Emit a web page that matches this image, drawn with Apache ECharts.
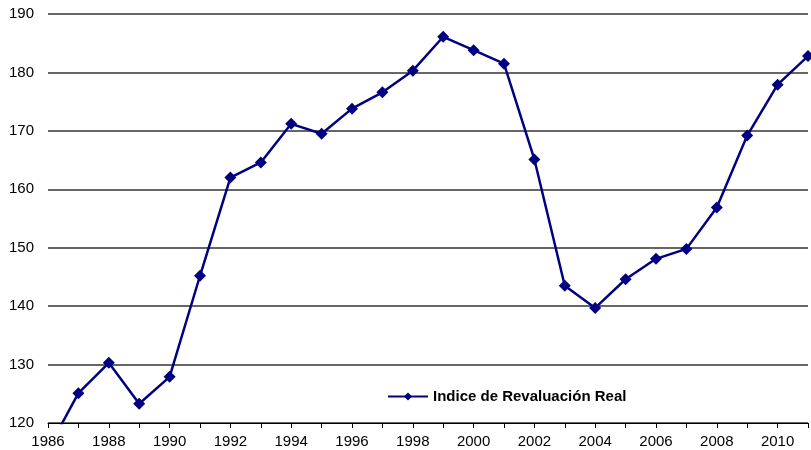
<!DOCTYPE html>
<html>
<head>
<meta charset="utf-8">
<script src="https://cdn.jsdelivr.net/npm/echarts@6/dist/echarts.min.js"></script>
<style>
    html, body { margin: 0; padding: 0; background: #fff; }
    #chart { width: 811px; height: 450px; }
</style>
</head>
<body>
<div id="chart"></div>
<script>
// datos
const years = [1986, 1987, 1988, 1989, 1990, 1991, 1992, 1993, 1994, 1995, 1996, 1997, 1998,
    1999, 2000, 2001, 2002, 2003, 2004, 2005, 2006, 2007, 2008, 2009, 2010, 2011];
const indiceReal = [115.5, 125.1, 130.3, 123.3, 127.9, 145.2, 162.0, 164.6, 171.2, 169.5, 173.8, 176.6, 180.3,
    186.1, 183.8, 181.5, 165.1, 143.5, 139.7, 144.6, 148.1, 149.8, 156.9, 169.2, 177.9, 182.8];
const seriesName = 'Indice de Revaluación Real';

const myChart = echarts.init(document.getElementById('chart'));

const options = {
    animation: false,
    textStyle: { fontFamily: 'Liberation Sans, Arial, sans-serif' },
    grid: { left: 48, right: 1, top: 14, bottom: 27 },
    legend: {
        left: 382,
        top: 384,
        itemWidth: 40,
        itemHeight: 10,
        textStyle: { color: '#000', fontSize: 15, fontWeight: 'bold' },
        data: [seriesName]
    },
    xAxis: {
        type: 'value',
        min: 1986,
        max: 2011,
        interval: 1,
        axisLine: { show: true, lineStyle: { color: '#000', width: 1 } },
        axisTick: { show: true, length: 5, lineStyle: { color: '#000' } },
        axisLabel: {
            color: '#000',
            fontSize: 15,
            margin: 11,
            formatter: function (v) { return v % 2 === 0 ? String(v) : ''; }
        },
        splitLine: { show: false }
    },
    yAxis: {
        type: 'value',
        min: 120,
        max: 190,
        interval: 10,
        axisLine: { show: false },
        axisTick: { show: false },
        axisLabel: { color: '#000', fontSize: 15, margin: 14 },
        splitLine: { show: true, lineStyle: { color: '#333', width: 1.5 } }
    },
    series: [{
        name: seriesName,
        type: 'line',
        data: years.map((y, i) => [y, indiceReal[i]]),
        clip: true,
        symbol: 'diamond',
        symbolSize: 12,
        lineStyle: { color: '#000080', width: 2.5 },
        itemStyle: { color: '#000080' }
    }]
};

myChart.setOption(options);
</script>
</body>
</html>
